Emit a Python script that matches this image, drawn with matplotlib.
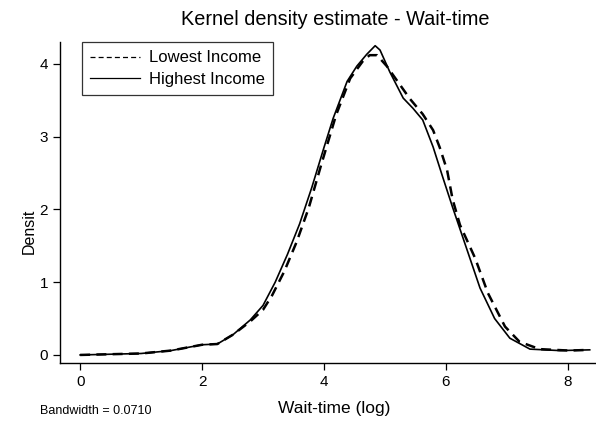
import matplotlib.pyplot as plt

plt.rcParams['font.family'] = ['Liberation Sans', 'DejaVu Sans']

# Highest income (solid)
high_x = [0.0, 1.0, 1.49, 2.0, 2.25, 2.51, 2.79, 3.0, 3.2, 3.4, 3.6, 3.8, 4.0, 4.15, 4.38,
          4.54, 4.70, 4.84, 4.92, 5.08, 5.30, 5.46, 5.62, 5.79, 5.95, 6.11, 6.39, 6.56,
          6.80, 7.05, 7.38, 7.87, 8.36]
high_y = [0.0, 0.02, 0.06, 0.14, 0.15, 0.28, 0.48, 0.68, 1.0, 1.38, 1.8, 2.3, 2.85, 3.25, 3.76,
          3.97, 4.13, 4.25, 4.19, 3.89, 3.53, 3.39, 3.23, 2.86, 2.44, 2.03, 1.34, 0.92,
          0.50, 0.23, 0.08, 0.06, 0.07]

# Lowest income (dashed)
low_x = [0.0, 1.0, 1.49, 2.0, 2.25, 2.51, 2.79, 3.0, 3.15, 3.35, 3.55, 3.75, 3.95, 4.2, 4.43,
         4.64, 4.75, 4.87, 5.03, 5.41, 5.62, 5.79, 5.90, 6.02, 6.11, 6.23, 6.48, 6.69,
         6.97, 7.21, 7.54, 8.03, 8.36]
low_y = [0.0, 0.02, 0.06, 0.14, 0.15, 0.28, 0.46, 0.62, 0.82, 1.15, 1.55, 2.02, 2.6, 3.3, 3.8,
         4.04, 4.12, 4.12, 3.97, 3.52, 3.31, 3.09, 2.85, 2.54, 2.14, 1.79, 1.33, 0.85,
         0.39, 0.18, 0.08, 0.06, 0.07]

x_ticks = [0, 2, 4, 6, 8]
y_ticks = [0, 1, 2, 3, 4]

fig = plt.figure(figsize=(5.96, 4.25), dpi=100)
ax = fig.add_axes([0.1007, 0.146, 0.899, 0.755])

ax.plot(low_x, low_y, color='black', linestyle=(0, (4, 2.5)), linewidth=1.8,
        label='Lowest Income')
ax.plot(high_x, high_y, color='black', linestyle='-', linewidth=1.2,
        label='Highest Income')

ax.set_xlim(-0.33, 8.46)
ax.set_ylim(-0.11, 4.3)
ax.set_xticks(x_ticks)
ax.set_yticks(y_ticks)
ax.tick_params(direction='out', length=5, width=0.9, labelsize=11, colors='black')
ax.spines['top'].set_visible(False)
ax.spines['right'].set_visible(False)
ax.spines['left'].set_linewidth(1.0)
ax.spines['bottom'].set_linewidth(1.0)

ax.set_ylabel('Densit', fontsize=11.5)
ax.yaxis.set_label_coords(-0.043, 0.41)

leg = ax.legend(loc='upper left', bbox_to_anchor=(0.041, 1.0), borderaxespad=0,
                fontsize=12, frameon=True, fancybox=False, handlelength=3.0,
                borderpad=0.5, labelspacing=0.4, handletextpad=0.5)
leg.get_frame().set_edgecolor('black')
leg.get_frame().set_linewidth(0.9)
for line in leg.get_lines():
    line.set_linewidth(0.9)

fig.text(0.563, 0.953, 'Kernel density estimate - Wait-time', fontsize=14.3,
         ha='center', va='center')
fig.text(0.56, 0.04, 'Wait-time (log)', fontsize=12.5, ha='center', va='center')
fig.text(0.067, 0.033, 'Bandwidth = 0.0710', fontsize=9, ha='left', va='center')

fig.savefig('out.png', dpi=100)
